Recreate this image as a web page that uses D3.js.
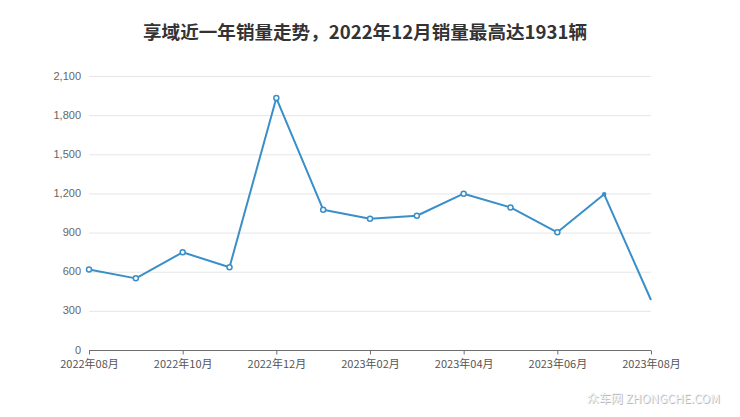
<!DOCTYPE html>
<html><head><meta charset="utf-8">
<script src="https://cdn.jsdelivr.net/npm/d3@7"></script>
<style>body{margin:0;background:#fff;}svg{display:block;font-family:"Liberation Sans","DejaVu Sans",sans-serif;}</style>
</head><body><svg id="c" width="740" height="417"></svg>
<script>
const months = ["2022-08","2022-09","2022-10","2022-11","2022-12","2023-01","2023-02","2023-03","2023-04","2023-05","2023-06","2023-07","2023-08"];
const sales = [617,549,749,634,1931,1075,1006,1029,1198,1093,902,1193,383];
const yTicks = [0,300,600,900,1200,1500,1800,2100];
const xTickLabels = ["2022年08月","2022年10月","2022年12月","2023年02月","2023年04月","2023年06月","2023年08月"];
const title = "享域近一年销量走势，2022年12月销量最高达1931辆";

const svg = d3.select("#c");
const xi = d3.scalePoint().domain(months).range([89,651]);
const y = d3.scaleLinear().domain([0,2100]).range([350,76]);

svg.append("text").attr("x",365).attr("y",39).attr("text-anchor","middle")
  .attr("font-size",18).attr("font-weight","bold").attr("fill","#333")
  .attr("textLength",444).attr("lengthAdjust","spacingAndGlyphs")
  .attr("font-family","'Noto Sans CJK SC',sans-serif").text(title);

// grid
svg.append("g").selectAll("line").data(yTicks.filter(d=>d>0)).join("line")
  .attr("x1",89).attr("x2",651).attr("y1",d=>y(d)+0.5).attr("y2",d=>y(d)+0.5)
  .attr("stroke","#e6e6e6").attr("stroke-width",1);

// y axis labels
const ya = svg.append("g").attr("transform","translate(89,0)")
  .call(d3.axisLeft(y).tickValues(yTicks).tickSize(0).tickPadding(8).tickFormat(d3.format(",")));
ya.select(".domain").remove();
ya.selectAll("text").attr("fill","#666").attr("font-size",11).attr("dy","0.28em");

// x axis
const xTickMonths = months.filter((m,i)=>i%2===0);
const xa = svg.append("g").attr("transform","translate(0,350.5)")
  .call(d3.axisBottom(xi).tickValues(xTickMonths).tickSize(4).tickPadding(6)
    .tickFormat((d,i)=>xTickLabels[i]));
xa.select(".domain").attr("stroke","#6e6e6e").attr("d","M89,0H651");
xa.selectAll(".tick line").attr("stroke","#6e6e6e");
xa.selectAll("text").attr("fill","#555").attr("font-size",11)
  .attr("font-family","'Noto Sans CJK SC',sans-serif");

// line
const line = d3.line().x((d,i)=>xi(months[i])).y(d=>y(d));
svg.append("path").datum(sales).attr("d",line).attr("fill","none")
  .attr("stroke","#3a8fc8").attr("stroke-width",2).attr("stroke-linejoin","round");

svg.append("g").selectAll("circle").data(sales.slice(0,sales.length-1)).join("circle")
  .attr("cx",(d,i)=>xi(months[i])).attr("cy",d=>y(d))
  .attr("r",(d,i)=>i===sales.length-2?1.5:2.5)
  .attr("fill",(d,i)=>i===sales.length-2?"#3a8fc8":"#fff").attr("stroke","#3a8fc8").attr("stroke-width",1.5);

// watermark
const wm = svg.append("g").attr("font-family","'Noto Sans CJK SC',sans-serif").attr("font-size",12);
wm.append("text").attr("x",721).attr("y",404).attr("text-anchor","end").attr("fill","#bbb").text("众车网 ZHONGCHE.COM");
wm.append("text").attr("x",720).attr("y",403).attr("text-anchor","end").attr("fill","#f4f4f4").text("众车网 ZHONGCHE.COM");
</script></body></html>
